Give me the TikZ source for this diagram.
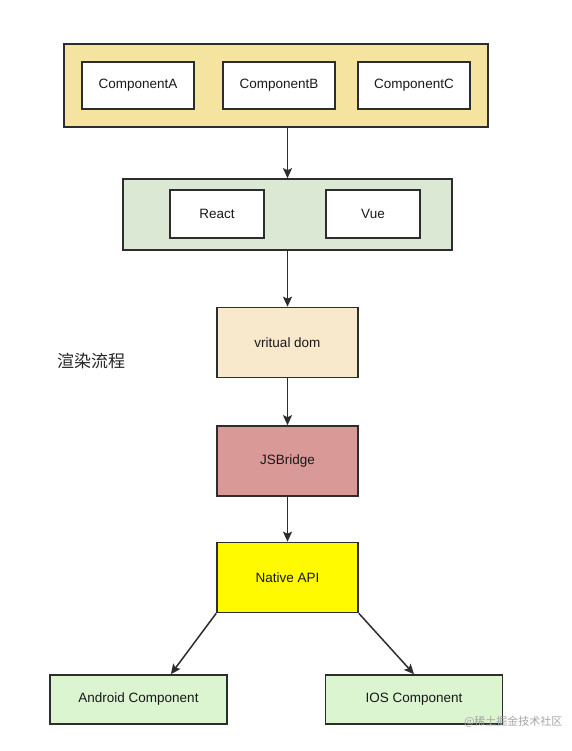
\documentclass[tikz,border=0pt]{standalone}
\usepackage{fontspec}
\setmainfont{Liberation Sans}
\newfontfamily\cjk{Noto Sans CJK SC}
\usepackage{tikz}
\usetikzlibrary{arrows.meta, positioning}
\definecolor{outeryellow}{RGB}{245,228,160}
\definecolor{framegreen}{RGB}{218,232,212}
\definecolor{domcream}{RGB}{248,232,204}
\definecolor{bridgered}{RGB}{217,153,151}
\definecolor{nativeyellow}{RGB}{255,250,0}
\definecolor{leafgreen}{RGB}{218,245,208}
\definecolor{edgegray}{RGB}{45,45,45}

\begin{document}
\begin{tikzpicture}[
      x=1pt, y=-1pt,
      box/.style={draw=edgegray, line width=1.6pt, fill=white,
                  inner sep=0pt, align=center,
                  font=\fontsize{13.5}{16}\selectfont, text=black!90},
      block/.style={box, minimum width=141pt, minimum height=70pt},
      leaf/.style={box, fill=leafgreen, minimum width=177pt, minimum height=49pt},
      arrow/.style={-{Stealth[length=10pt, width=9pt, inset=2pt]},
                    line width=1.5pt, color=edgegray},
    ]
    \useasboundingbox[fill=white] (0,0) rectangle (571,751);

    % Komponenten
    \node[box, fill=outeryellow, minimum width=424pt, minimum height=83pt] (top) at (276,85.5) {};
    \node[box, minimum width=112pt, minimum height=47pt] (compa) at (138,85.5) {ComponentA};
    \node[box, minimum width=112pt, minimum height=47pt] (compb) at (279,85.5) {ComponentB};
    \node[box, minimum width=112pt, minimum height=47pt] (compc) at (414,85.5) {ComponentC};

    % Frameworks
    \node[box, fill=framegreen, minimum width=329pt, minimum height=71pt] (frame) at (287.5,214.5) {};
    \node[box, minimum width=94pt, minimum height=48pt] (react) at (217,214) {React};
    \node[box, minimum width=94pt, minimum height=48pt] (vue)   at (373,214) {Vue};

    \node[block, fill=domcream]     (vdom)   at (287.5,342.5) {vritual dom};
    \node[block, fill=bridgered]    (bridge) at (287.5,461)   {JSBridge};
    \node[block, fill=nativeyellow] (native) at (287.5,577.5) {Native API};

    \node[leaf] (android) at (138.5,699.5) {Android Component};
    \node[leaf] (ios)     at (414,699.5)   {IOS Component};

    \node[font=\cjk\fontsize{17}{20}\selectfont, text=black!85] (title) at (91,361) {渲染流程};
    \node[font=\cjk\fontsize{11}{13}\selectfont, text=black!35, anchor=east] (mark) at (566,722) {@稀土掘金技术社区};

    \draw[arrow] (top.south -| frame.north) -- (frame.north);
    \draw[arrow] (frame)  -- (vdom);
    \draw[arrow] (vdom)   -- (bridge);
    \draw[arrow] (bridge) -- (native);
    \draw[arrow] (native.south west) -- (android.38);
    \draw[arrow] (native.south east) -- (ios.north);
  \end{tikzpicture}
\end{document}
